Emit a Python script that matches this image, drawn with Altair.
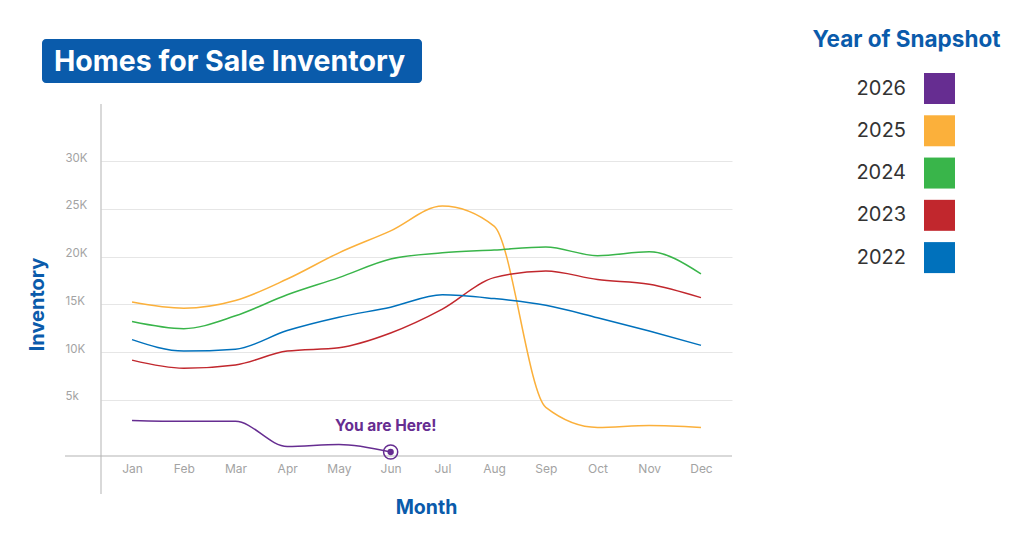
import altair as alt
import pandas as pd

months = ["Jan", "Feb", "Mar", "Apr", "May", "Jun", "Jul", "Aug", "Sep", "Oct", "Nov", "Dec"]
years = ["2026", "2025", "2024", "2023", "2022"]
year_colors = ["#662d91", "#fbb03b", "#39b54a", "#c1272d", "#0071bc"]

inv_2026 = [2830, 2730, 2730, 100, 300, -480]
inv_2025 = [15250, 14600, 15400, 17650, 20400, 22700, 25300, 23200, 4200, 2100, 2300, 2100]
inv_2024 = [13200, 12450, 13800, 16000, 17800, 19750, 20400, 20700, 21000, 20100, 20500, 18200]
inv_2023 = [9150, 8300, 8650, 10100, 10450, 12000, 14500, 17800, 18500, 17600, 17100, 15700]
inv_2022 = [11300, 10100, 10300, 12250, 13650, 14700, 16000, 15600, 14900, 13600, 12200, 10700]

y_ticks = [5000, 10000, 15000, 20000, 25000, 30000]
y_tick_labels = ["5k", "10K", "15K", "20K", "25K", "30K"]

title_text = "Homes for Sale Inventory"
legend_title = "Year of Snapshot"
marker_text = "You are Here!"

BLUE = "#0a5bab"
FONT = "Inter"

series = {"2026": inv_2026, "2025": inv_2025, "2024": inv_2024, "2023": inv_2023, "2022": inv_2022}
rows = []
for yr, vals in series.items():
    for m, v in zip(months, vals):
        rows.append({"month": m, "year": yr, "inventory": v})
df = pd.DataFrame(rows)
here = df[df["year"] == "2026"].tail(1)
legend_df = pd.DataFrame({"year": years})

label_expr = " : ".join(
    f"datum.value == {v} ? '{t}'" for v, t in zip(y_ticks, y_tick_labels)
) + " : ''"

color_scale = alt.Scale(domain=years, range=year_colors)

x_enc = alt.X(
    "month:N", sort=months, scale=alt.Scale(type="point", padding=0.6),
    axis=alt.Axis(
        title="Month", domain=False, ticks=False, grid=False, labelAngle=0,
        labelFontSize=12, labelColor="#a3a3a3", labelPadding=7, labelFont=FONT,
        titleFontSize=19.5, titleFontWeight="bold", titleColor=BLUE, titleFont=FONT,
        titleX=325, titleY=57, titleBaseline="alphabetic",
    ),
)
y_enc = alt.Y(
    "inventory:Q", scale=alt.Scale(domain=[-900, 36000], nice=False, zero=False),
    axis=alt.Axis(
        title="Inventory", values=y_ticks, labelExpr=label_expr,
        domain=False, ticks=False, gridColor="#e6e6e6",
        labelAlign="left", labelPadding=36, labelBaseline="alphabetic",
        labelFontSize=11.5, labelColor="#a3a3a3", labelFont=FONT,
        titleFontSize=20, titleFontWeight="bold", titleColor=BLUE, titleFont=FONT,
        titleX=-64, titleY=200, titleAlign="center", titleBaseline="middle",
    ),
)

lines = alt.Chart(df).mark_line(interpolate="monotone", strokeWidth=1.5).encode(
    x=x_enc,
    y=y_enc,
    color=alt.Color("year:N", scale=color_scale, legend=None),
    detail="year:N",
)

ring = alt.Chart(here).mark_point(
    shape="circle", size=200, filled=False, color="#662d91", strokeWidth=1.5, opacity=1
).encode(x=alt.X("month:N", sort=months), y="inventory:Q")
dot = alt.Chart(here).mark_point(
    shape="circle", size=40, filled=True, color="#662d91", opacity=1
).encode(x=alt.X("month:N", sort=months), y="inventory:Q")
here_label = alt.Chart(here).mark_text(
    text=marker_text, font=FONT, fontSize=15.5, fontWeight="bold", color="#662d91",
    dx=-5, dy=-21, baseline="alphabetic", align="center",
).encode(x=alt.X("month:N", sort=months), y="inventory:Q")

plot = alt.layer(lines, ring, dot, here_label)

# key on the right: squares and year labels placed by their own point scale
legend_y = alt.Y("year:N", sort=years, scale=alt.Scale(type="point", range=[-15.5, 153.6], padding=0), axis=None)
key_squares = alt.Chart(legend_df).mark_square(size=961, opacity=1).encode(
    x=alt.value(838.5), y=legend_y,
    color=alt.Color("year:N", scale=color_scale, legend=None),
)
key_labels = alt.Chart(legend_df).mark_text(
    font=FONT, fontSize=20, color="#333333", align="right", baseline="middle",
).encode(x=alt.value(805), y=legend_y, text="year:N")
key = alt.layer(key_squares, key_labels)

one = pd.DataFrame({"k": [0]})
axis_v = alt.Chart(one).mark_rule(color="#b3b3b3", strokeWidth=1).encode(
    x=alt.value(0), y=alt.value(0), y2=alt.value(390)
)
axis_h = alt.Chart(one).mark_rule(color="#b3b3b3", strokeWidth=1).encode(
    x=alt.value(-36), x2=alt.value(631), y=alt.value(352)
)

title_box = alt.Chart(one).mark_rect(color=BLUE, cornerRadius=4).encode(
    x=alt.value(-59), x2=alt.value(321), y=alt.value(-65), y2=alt.value(-21)
)
title_mark = alt.Chart(pd.DataFrame({"t": [title_text]})).mark_text(
    font=FONT, fontSize=28.5, fontWeight="bold", color="white",
    align="left", baseline="alphabetic",
).encode(text="t:N", x=alt.value(-47), y=alt.value(-33))
legend_head = alt.Chart(pd.DataFrame({"t": [legend_title]})).mark_text(
    font=FONT, fontSize=22.5, fontWeight="bold", color=BLUE,
    align="center", baseline="alphabetic",
).encode(text="t:N", x=alt.value(805.5), y=alt.value(-57))

chart = alt.layer(
    axis_v, axis_h, plot, key, title_box, title_mark, legend_head
).resolve_scale(y="independent").properties(
    width=631, height=352,
    autosize=alt.AutoSizeParams(type="none"),
    padding={"left": 93, "top": 96, "right": 284, "bottom": 86},
).configure_view(stroke=None)

chart.save("out.html", embed_options={"renderer": "svg", "actions": False})
